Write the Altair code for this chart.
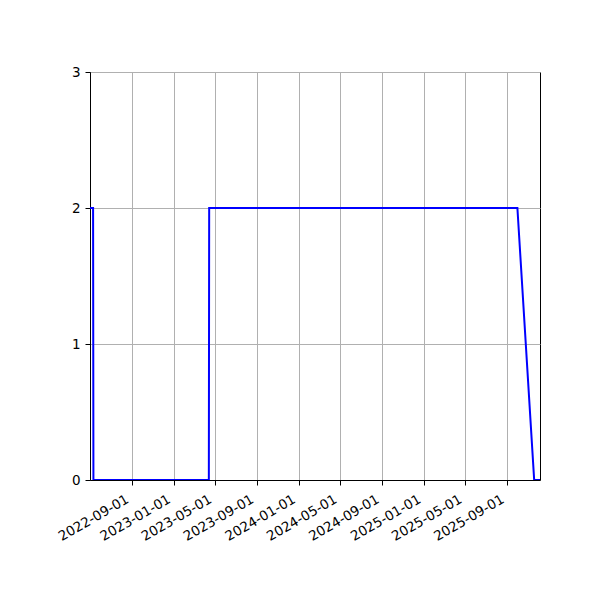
import altair as alt
import pandas as pd

# data
dates = ["2022-05-02", "2022-05-11", "2022-05-12", "2023-04-14", "2023-04-15",
         "2025-10-01", "2025-11-19", "2025-12-06"]
values = [2, 2, 0, 0, 2, 2, 0, 0]

tick_dates = ["2022-09-01", "2023-01-01", "2023-05-01", "2023-09-01", "2024-01-01",
              "2024-05-01", "2024-09-01", "2025-01-01", "2025-05-01", "2025-09-01"]
y_ticks = [0, 1, 2, 3]
x_domain = ["2022-05-02", "2025-12-06"]


def ms(s):
    return int(pd.Timestamp(s, tz="UTC").value // 10**6)


df = pd.DataFrame({"date": dates, "value": values})

chart = (
    alt.Chart(df)
    .mark_line(color="#0000ff", strokeWidth=2, clip=True)
    .encode(
        x=alt.X(
            "date:T",
            scale=alt.Scale(type="utc", domain=[ms(d) for d in x_domain], nice=False),
            axis=alt.Axis(
                values=[ms(d) for d in tick_dates],
                labelExpr="utcFormat(datum.value, '%Y-%m-%d')",
                labelAngle=-30,
                labelAlign="right",
                labelBaseline="top",
                labelOffset=-8,
                labelPadding=7,
                labelOverlap=False,
                labelFlush=False,
                title=None,
            ),
        ),
        y=alt.Y(
            "value:Q",
            scale=alt.Scale(domain=[0, 3], nice=False),
            axis=alt.Axis(values=y_ticks, format="d", title=None, labelFlush=False),
        ),
    )
    .properties(
        width=450,
        height=408,
        autosize=alt.AutoSizeParams(type="none"),
        padding={"left": 82, "top": 64, "right": 50, "bottom": 100},
    )
    .configure_view(stroke="black", strokeWidth=1)
    .configure_axis(
        domainColor="black",
        domainWidth=1,
        tickColor="black",
        tickWidth=1,
        tickSize=5,
        labelPadding=5,
        labelFont="DejaVu Sans",
        labelFontSize=13.5,
        labelColor="black",
        grid=True,
        gridColor="#b0b0b0",
        gridWidth=1,
    )
)

chart.save("out.html", embed_options={"renderer": "svg", "actions": False})
